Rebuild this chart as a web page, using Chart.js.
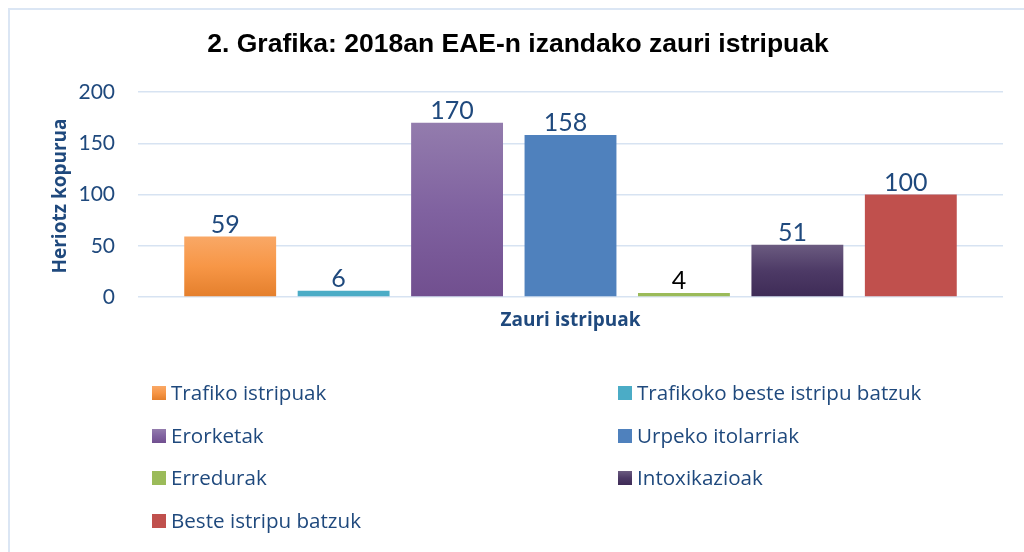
<!DOCTYPE html>
<html>
<head>
<meta charset="utf-8">
<script src="https://cdn.jsdelivr.net/npm/chart.js@4.4.1/dist/chart.umd.min.js"></script>
<style>
  html, body { margin: 0; padding: 0; background: #fff; }
  #wrap { width: 1024px; height: 552px; }
</style>
</head>
<body>
<div id="wrap"><canvas id="chart" width="1024" height="552"></canvas></div>
<script>
// data
const categories = ['Zauri istripuak'];
const seriesNames = [
  'Trafiko istripuak',
  'Trafikoko beste istripu batzuk',
  'Erorketak',
  'Urpeko itolarriak',
  'Erredurak',
  'Intoxikazioak',
  'Beste istripu batzuk',
];
const seriesValues = [59, 6, 170, 158, 4, 51, 100];
const yTicks = [0, 50, 100, 150, 200];

const chartTitle = '2. Grafika: 2018an EAE-n izandako zauri istripuak';
const yTitle = 'Heriotz kopurua';

// styles (top -> bottom stops)
const seriesColors = [
  ['#f9a866', '#f79646', '#e47f2c'],
  ['#4bacc6'],
  ['#937cad', '#8062a0', '#714f8f'],
  ['#4f81bd'],
  ['#9bbb59'],
  ['#6b5b80', '#4d3a66', '#3e2b56'],
  ['#c0504d'],
];
const labelColors = ['#1f497d', '#1f497d', '#1f497d', '#1f497d', '#000000', '#1f497d', '#1f497d'];

const TEXT_BLUE = '#1f497d';
const GRID = '#d7e3f2';
const NUM_FONT = 'Lato, "Open Sans", sans-serif';
const BODY_FONT = '"Open Sans", Lato, sans-serif';

function fillFor(ctx2d, stops, top, bottom) {
  if (stops.length === 1) return stops[0];
  const g = ctx2d.createLinearGradient(0, top, 0, bottom);
  stops.forEach((c, i) => g.addColorStop(i / (stops.length - 1), c));
  return g;
}

const decor = {
  id: 'decor',
  beforeDraw(chart) {
    const c = chart.ctx;
    c.save();
    c.strokeStyle = '#dbe6f4';
    c.lineWidth = 2;
    c.beginPath();
    c.moveTo(9, 552);
    c.lineTo(9, 9);
    c.lineTo(1024, 9);
    c.stroke();
    c.restore();
  },
  afterDatasetsDraw(chart) {
    const c = chart.ctx;
    c.save();
    c.font = '25px ' + NUM_FONT;
    c.textAlign = 'center';
    c.textBaseline = 'alphabetic';
    chart.data.datasets.forEach((ds, i) => {
      const bar = chart.getDatasetMeta(i).data[0];
      c.fillStyle = labelColors[i];
      c.fillText(String(ds.data[0]), bar.x - 5, bar.y - 4);
    });
    c.restore();
  },
  afterDraw(chart) {
    const c = chart.ctx;
    const area = chart.chartArea;
    c.save();
    // title
    c.fillStyle = '#000';
    c.font = 'bold 26.5px "Liberation Sans", Arial, sans-serif';
    c.textAlign = 'center';
    c.textBaseline = 'middle';
    c.fillText(chartTitle, 518, 45);

    // axis titles
    c.fillStyle = TEXT_BLUE;
    c.font = 'bold 19px ' + BODY_FONT;
    c.fillText(categories[0], (area.left + area.right) / 2, 321);
    c.save();
    c.translate(61, 196);
    c.rotate(-Math.PI / 2);
    c.fillText(yTitle, 0, 0);
    c.restore();

    // legend, two columns
    const cols = [152, 618];
    const rows = [393, 436, 478, 521];
    c.font = '20.6px ' + BODY_FONT;
    c.textAlign = 'left';
    seriesNames.forEach((name, i) => {
      const x = cols[i % 2];
      const y = rows[Math.floor(i / 2)];
      c.fillStyle = fillFor(c, seriesColors[i], y - 7, y + 7);
      c.fillRect(x, y - 7, 14, 14);
      c.fillStyle = TEXT_BLUE;
      c.fillText(name, x + 19, y + 1);
    });
    c.restore();
  },
};

const ctx = document.getElementById('chart').getContext('2d');

new Chart(ctx, {
  type: 'bar',
  data: {
    labels: categories,
    datasets: seriesNames.map((name, i) => ({
      label: name,
      data: [seriesValues[i]],
      backgroundColor: (context) => {
        const chart = context.chart;
        const y = chart.scales && chart.scales.y;
        if (!y || !chart.chartArea) return seriesColors[i][Math.floor(seriesColors[i].length / 2)];
        const top = y.getPixelForValue(seriesValues[i]);
        const bottom = y.getPixelForValue(0);
        return fillFor(chart.ctx, seriesColors[i], top, bottom);
      },
      categoryPercentage: 0.918,
      barPercentage: 0.81,
    })),
  },
  options: {
    responsive: false,
    animation: false,
    devicePixelRatio: 1,
    layout: { padding: { top: 92, left: 0, right: 21, bottom: 0 } },
    plugins: {
      legend: { display: false },
      title: { display: false },
      tooltip: { enabled: false },
    },
    scales: {
      x: {
        ticks: { display: false },
        grid: { display: false },
        border: { display: false },
        afterFit: (s) => { s.height = 552 - 297; },
      },
      y: {
        min: 0,
        max: 200,
        afterBuildTicks: (s) => { s.ticks = yTicks.map((v) => ({ value: v })); },
        ticks: {
          color: TEXT_BLUE,
          padding: 23,
          font: { family: NUM_FONT, size: 21 },
        },
        grid: { color: GRID, lineWidth: 1.5, drawTicks: false },
        border: { display: false },
        afterFit: (s) => { s.width = 138; },
      },
    },
  },
  plugins: [decor],
});
</script>
</body>
</html>
